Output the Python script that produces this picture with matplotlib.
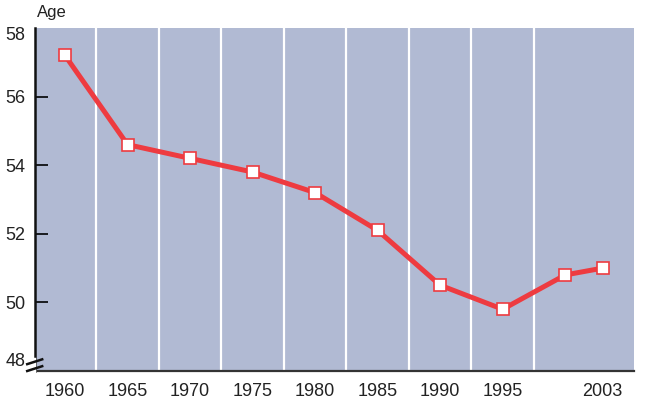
import matplotlib.pyplot as plt
import matplotlib.transforms as mtransforms
import numpy as np

plt.rcParams['font.family'] = ['Liberation Sans', 'DejaVu Sans']

# Dane: mediana wieku
years = [1960, 1965, 1970, 1975, 1980, 1985, 1990, 1995, 2000, 2003]
age = [57.2, 54.6, 54.2, 53.8, 53.2, 52.1, 50.5, 49.8, 50.8, 51.0]
xtick_years = [1960, 1965, 1970, 1975, 1980, 1985, 1990, 1995, 2003]
ytick_values = [50, 52, 54, 56, 58]
grid_years = [1962.5, 1967.5, 1972.5, 1977.5, 1982.5, 1987.5, 1992.5, 1997.5]

fig = plt.figure(figsize=(6.49, 4.04), dpi=100)
ax = fig.add_axes([35 / 649, 33 / 404, 599 / 649, 343 / 404])
ax.set_facecolor('#b1bad3')

for g in grid_years:
    ax.axvline(g, color='white', lw=1.6, zorder=1)

ax.plot(years, age, color='#ee3b40', lw=3.6, marker='s', markersize=8.5,
        markerfacecolor='white', markeredgecolor='#ee3b40', markeredgewidth=1.2,
        zorder=3, clip_on=False)

ax.set_xlim(1957.6, 2005.5)
ax.set_ylim(48, 58)

ax.set_xticks(xtick_years)
ax.set_xticklabels([str(y) for y in xtick_years], fontsize=13, color='#222222')
ax.tick_params(axis='x', length=0, pad=9)

ax.set_yticks(ytick_values)
ax.set_yticklabels([str(v) for v in ytick_values], fontsize=13, color='#222222')
ax.tick_params(axis='y', direction='in', length=9, width=1.2, pad=7)
for t in ax.yaxis.get_major_ticks():
    if t.get_loc() == 58:
        t.tick1line.set_visible(False)
        t.label1.set_transform(t.label1.get_transform() +
                               mtransforms.ScaledTranslation(0, -0.06, fig.dpi_scale_trans))

# etykieta 48 przy przerwanej osi
ax.annotate('48', xy=(0, 48), xycoords=('axes fraction', 'data'),
            xytext=(-7, 6.5), textcoords='offset points', ha='right', va='center',
            fontsize=13, color='#222222', annotation_clip=False)

for s in ['top', 'right']:
    ax.spines[s].set_visible(False)
ax.spines['left'].set_linewidth(1.8)
ax.spines['left'].set_color('#111111')
ax.spines['bottom'].set_linewidth(1.6)
ax.spines['bottom'].set_color('#333333')

# znak przerwania osi
ax.plot([-0.001, -0.001], [0.0, 0.034], transform=ax.transAxes,
        color='white', lw=2.5, clip_on=False, zorder=4)
for dy in (0.007, 0.027):
    ax.plot([-0.013, 0.012], [dy - 0.007, dy + 0.007], transform=ax.transAxes,
            color='#111111', lw=1.8, clip_on=False, zorder=5)

fig.text(37 / 649, 1 - 13 / 404, 'Age', fontsize=12, color='#222222',
         ha='left', va='center')

fig.savefig('out.png', dpi=100)
